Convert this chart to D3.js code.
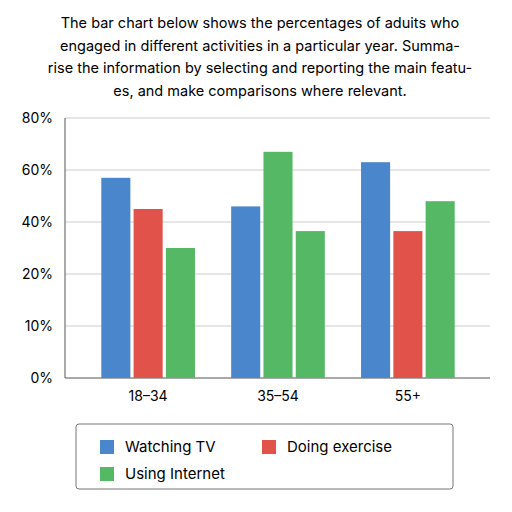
<!DOCTYPE html>
<html><head><meta charset="utf-8">
<script src="https://cdn.jsdelivr.net/npm/d3@7"></script>
<style>body{margin:0;background:#fff;font-family:"Inter","Open Sans",sans-serif;}</style>
</head><body><div id="chart"></div>
<script>
var titleLines = ["The bar chart below shows the percentages of aduits who",
  "engaged in different activities in a particular year. Summa-",
  "rise the information by selecting and reporting the main featu-",
  "es, and make comparisons where relevant."];
var groups = ["18\u201334", "35\u201354", "55+"];
var seriesNames = ["Watching TV", "Doing exercise", "Using Internet"];
// values per group, left to right
var values = [[57, 45, 30], [46, 67, 36.5], [63, 36.5, 48]];
// which series colour each bar uses (as in the picture)
var barSeries = [[0, 1, 2], [0, 2, 2], [0, 1, 2]];
var tickValues = [0, 10, 20, 40, 60, 80];

var colors = ["#4a86cc", "#e0524a", "#55b865"];

var svg = d3.select("#chart").append("svg").attr("width", 512).attr("height", 512);

svg.selectAll("text.title").data(titleLines).enter().append("text")
  .attr("x", 260).attr("y", function(d, i){ return 28 + i*22.5; })
  .attr("text-anchor", "middle").style("font-size", "14.5px").text(function(d){ return d; });

var y = d3.scaleLinear().domain(tickValues).range([378, 326, 274, 222, 170, 118]);
var x = d3.scaleBand().domain(groups).range([78, 478]).padding(0.08);
var xi = d3.scaleBand().domain([0, 1, 2]).range([0, x.bandwidth()]).paddingInner(0.1).paddingOuter(0.4);

svg.selectAll("line.grid").data(tickValues).enter().append("line")
  .attr("x1", 65).attr("x2", 490).attr("y1", function(d){ return y(d); }).attr("y2", function(d){ return y(d); })
  .attr("stroke", function(d){ return d === 0 ? "#555" : "#ccc"; }).attr("stroke-width", 1);
svg.append("line").attr("x1", 65).attr("x2", 65).attr("y1", 118).attr("y2", 378).attr("stroke", "#555");

svg.selectAll("text.ytick").data(tickValues).enter().append("text")
  .attr("x", 53).attr("y", function(d){ return y(d) + 5; }).attr("text-anchor", "end")
  .style("font-size", "14px").text(function(d){ return d + "%"; });

groups.forEach(function(g, gi){
  svg.selectAll("rect.b" + gi).data(values[gi]).enter().append("rect")
    .attr("x", function(d, i){ return x(g) + xi(i); })
    .attr("y", function(d){ return y(d); })
    .attr("width", xi.bandwidth())
    .attr("height", function(d){ return y(0) - y(d); })
    .attr("fill", function(d, i){ return colors[barSeries[gi][i]]; });
  svg.append("text").attr("x", x(g) + x.bandwidth()/2).attr("y", 401)
    .attr("text-anchor", "middle").style("font-size", "14px").text(g);
});

svg.append("rect").attr("x", 76).attr("y", 424).attr("width", 377).attr("height", 65).attr("rx", 3)
  .attr("fill", "#fff").attr("stroke", "#777");
var legendPos = [[100, 440], [262, 440], [100, 467]];
svg.selectAll("rect.leg").data(seriesNames).enter().append("rect")
  .attr("x", function(d, i){ return legendPos[i][0]; }).attr("y", function(d, i){ return legendPos[i][1]; })
  .attr("width", 14).attr("height", 14).attr("fill", function(d, i){ return colors[i]; });
svg.selectAll("text.leg").data(seriesNames).enter().append("text")
  .attr("x", function(d, i){ return legendPos[i][0] + 25; }).attr("y", function(d, i){ return legendPos[i][1] + 12; })
  .style("font-size", "15px").text(function(d){ return d; });
</script></body></html>
